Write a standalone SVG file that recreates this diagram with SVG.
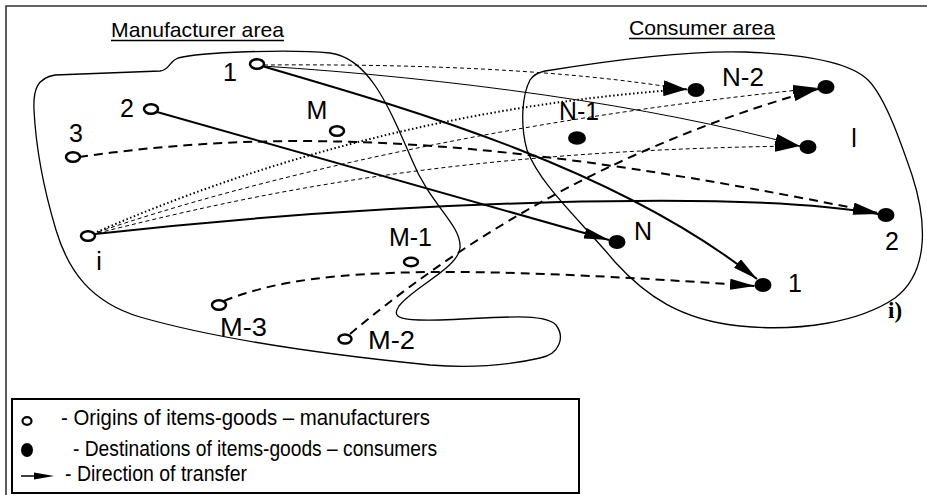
<svg xmlns="http://www.w3.org/2000/svg" width="927" height="495" viewBox="0 0 927 495">
<style>
.o{fill:#fff;stroke:#000;stroke-width:2.5}
.d{fill:#000}
.lbl{font-family:"Liberation Sans",Arial,sans-serif;font-size:25px;fill:#000}
.hdr{font-family:"Liberation Sans",Arial,sans-serif;font-size:21px;fill:#000}
.leg{font-family:"Liberation Sans",Arial,sans-serif;font-size:21.5px;fill:#000}
.area{fill:none;stroke:#000;stroke-width:1.3}
.c{fill:none;stroke:#000}
.thick{stroke-width:2}
.thin{stroke-width:1}
.dash{stroke-dasharray:9 6}
.fdash{stroke-dasharray:4 3}
.dot{stroke-width:2;stroke-dasharray:1.5 2.5}
</style>
<defs>
<marker id="arr" markerUnits="userSpaceOnUse" markerWidth="25" markerHeight="11" refX="25" refY="5.5" orient="auto" viewBox="0 0 25 11">
<path d="M0,0 L25,5.5 L0,11 Z" fill="#000"/>
</marker>
</defs>
<rect width="927" height="495" fill="#fff"/>
<g id="frame" fill="none" stroke="#333" stroke-width="1.6">
<path d="M6,495 L6,6 L927,6"/>
</g>
<g id="areas">
<path id="manufacturer-area" class="area" d="M34,110 C33,90 37,78 55,75 L160,71 C170,70 168,62 178,58 C200,52 290,49 330,53 C370,58 390,110 412,160 C430,205 462,225 460,248 C458,268 412,288 399,306 C391,318 400,321 440,320 C495,318 545,312 556,325 C565,337 560,354 540,358 C510,365 470,368 430,365 C330,355 220,340 140,317 C90,302 68,270 56,230 C44,190 36,150 34,110 Z"/>
<path id="consumer-area" class="area" d="M545,71 C600,62 680,50 745,52 C800,54 850,62 868,80 C885,97 900,140 912,175 C925,215 932,270 895,298 C860,322 800,332 740,326 C680,320 645,295 615,262 C580,220 540,185 527,150 C520,125 522,95 530,80 C534,74 540,72 545,71 Z"/>
<text class="hdr" x="111" y="37" textLength="173" lengthAdjust="spacingAndGlyphs">Manufacturer area</text>
<line x1="111" y1="40.5" x2="284" y2="40.5" stroke="#000" stroke-width="1.5"/>
<text class="hdr" x="629" y="35" textLength="146" lengthAdjust="spacingAndGlyphs">Consumer area</text>
<line x1="629" y1="38.5" x2="775" y2="38.5" stroke="#000" stroke-width="1.5"/>
</g>
<g id="connectors">
<path class="c thick" d="M262,66 C420,112 620,170 757,279" marker-end="url(#arr)"/>
<path class="c thin" d="M262,66 C450,78 650,105 800,146" marker-end="url(#arr)"/>
<path class="c thin fdash" d="M264,65 C400,64 560,68 688,90" marker-end="url(#arr)"/>
<path class="c thick" d="M157,112 L609,240" marker-end="url(#arr)"/>
<path class="c thick dash" d="M79,157 C300,125 520,140 878,213" marker-end="url(#arr)"/>
<path class="c thick" d="M95,234 C400,200 750,190 878,214" marker-end="url(#arr)"/>
<path class="c dot" d="M97,232 C250,165 450,105 688,89" marker-end="url(#arr)"/>
<path class="c thin fdash" d="M98,232 C250,180 500,120 818,88" marker-end="url(#arr)"/>
<path class="c thin fdash" d="M98,233 C250,195 450,150 800,146" marker-end="url(#arr)"/>
<path class="c thick dash" d="M224,301 C300,270 420,262 755,286" marker-end="url(#arr)"/>
<path class="c thick dash" d="M350,334 C450,250 600,150 818,89" marker-end="url(#arr)"/>
</g>
<g id="origin-1"><ellipse class="o" cx="257" cy="64" rx="7" ry="4.8"/><text class="lbl" x="230" y="81" text-anchor="middle">1</text></g>
<g id="origin-2"><ellipse class="o" cx="151" cy="109" rx="7" ry="4.8"/><text class="lbl" x="127" y="117" text-anchor="middle">2</text></g>
<g id="origin-3"><ellipse class="o" cx="73" cy="157" rx="7" ry="4.8"/><text class="lbl" x="76" y="142" text-anchor="middle">3</text></g>
<g id="origin-M"><ellipse class="o" cx="337" cy="131" rx="7" ry="4.8"/><text class="lbl" x="317" y="119" text-anchor="middle">M</text></g>
<g id="origin-i"><ellipse class="o" cx="88" cy="236" rx="7" ry="4.8"/><text class="lbl" x="99" y="270" text-anchor="middle">i</text></g>
<g id="origin-M-1"><ellipse class="o" cx="411" cy="262" rx="7" ry="4.2"/><text class="lbl" x="389" y="246" textLength="43" lengthAdjust="spacingAndGlyphs">M-1</text></g>
<g id="origin-M-3"><ellipse class="o" cx="219" cy="305" rx="7" ry="4.8"/><text class="lbl" x="220" y="336" textLength="47" lengthAdjust="spacingAndGlyphs">M-3</text></g>
<g id="origin-M-2"><ellipse class="o" cx="345" cy="339" rx="6.5" ry="4.5"/><text class="lbl" x="368" y="349" textLength="47" lengthAdjust="spacingAndGlyphs">M-2</text></g>
<g id="dest-N-2"><ellipse class="d" cx="696" cy="90" rx="8.5" ry="7"/><text class="lbl" x="722" y="86" textLength="42" lengthAdjust="spacingAndGlyphs">N-2</text></g>
<g id="dest-upper"><ellipse class="d" cx="826" cy="87" rx="8.5" ry="7"/></g>
<g id="dest-N-1"><ellipse class="d" cx="577" cy="138" rx="9" ry="6.8"/><text class="lbl" x="559" y="120" textLength="40" lengthAdjust="spacingAndGlyphs">N-1</text></g>
<g id="dest-l"><ellipse class="d" cx="808" cy="147" rx="8.5" ry="7"/><text class="lbl" x="854" y="147" text-anchor="middle">l</text></g>
<g id="dest-2"><ellipse class="d" cx="886" cy="215" rx="8.5" ry="7"/><text class="lbl" x="892" y="250" text-anchor="middle">2</text></g>
<g id="dest-N"><ellipse class="d" cx="617" cy="242" rx="8.5" ry="7"/><text class="lbl" x="643" y="240" text-anchor="middle">N</text></g>
<g id="dest-1"><ellipse class="d" cx="763" cy="285" rx="8.5" ry="7"/><text class="lbl" x="795" y="292" text-anchor="middle">1</text></g>
<text x="888" y="318" font-family="'Liberation Serif','Times New Roman',serif" font-weight="bold" font-size="23">i)</text>
<g id="legend">
<rect x="12" y="399" width="567" height="94" fill="none" stroke="#000" stroke-width="2"/>
<ellipse class="o" cx="27" cy="421" rx="4.5" ry="3.8" style="stroke-width:2.2"/>
<text class="leg" x="61" y="425" textLength="369" lengthAdjust="spacingAndGlyphs">- Origins of items-goods  – manufacturers</text>
<ellipse class="d" cx="27" cy="450" rx="6" ry="7"/>
<text class="leg" x="73" y="456" textLength="364" lengthAdjust="spacingAndGlyphs">- Destinations of items-goods – consumers</text>
<line x1="21" y1="476" x2="36" y2="476" stroke="#000" stroke-width="1.5"/>
<path d="M34,472.5 L54,476 L34,479.5 Z" fill="#000"/>
<text class="leg" x="65" y="481" textLength="182" lengthAdjust="spacingAndGlyphs">- Direction of transfer</text>
</g>
</svg>
